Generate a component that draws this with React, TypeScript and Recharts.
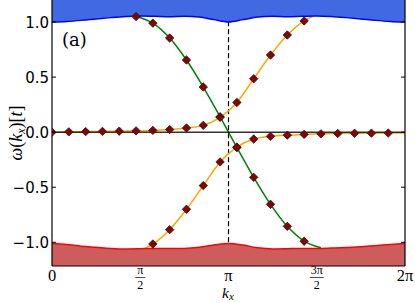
import React from 'react';
import { ComposedChart, Line, Area, Scatter, XAxis, YAxis, ReferenceLine } from 'recharts';

const PI = Math.PI;
const NSITES = 21; // momentum grid: k = 2πn/21
const siteK = (n: number) => (2 * PI * n) / NSITES;

// ---- band edges, sampled at k = 2πi/24, i = 0..24 ----
const BAND_SAMPLES = 24;
const upperBandEdge = [1.0, 1.005, 1.015, 1.028, 1.04, 1.05, 1.055, 1.052, 1.048, 1.052, 1.045, 1.022, 1.0,
  1.022, 1.045, 1.052, 1.048, 1.052, 1.055, 1.05, 1.04, 1.028, 1.015, 1.005, 1.0];
const lowerBandEdge = [-1.01, -1.02, -1.035, -1.045, -1.055, -1.06, -1.058, -1.055, -1.055, -1.055, -1.045, -1.025, -1.01,
  -1.025, -1.05, -1.06, -1.058, -1.055, -1.055, -1.052, -1.048, -1.04, -1.03, -1.02, -1.01];

// ---- bound states, values at sites n ----
const greenStart = 5;
const greenValues = [1.05, 0.99, 0.855, 0.655, 0.41, 0.14, -0.14, -0.41, -0.655, -0.855, -0.99, -1.05];
const greenMarkerCount = 11; // n = 5..15

const orangeUpperStart = 0;
const orangeUpperValues = [0.0, 0.003, 0.005, 0.007, 0.009, 0.012, 0.016, 0.024, 0.038, 0.062, 0.135, 0.27, 0.485, 0.7, 0.882, 1.01];
const orangeUpperEnd = { n: 15.5, v: 1.05 };

const orangeLowerStart = 6;
const orangeLowerValues = [-1.015, -0.885, -0.7, -0.485, -0.27, -0.135, -0.062, -0.038, -0.027, -0.02, -0.015, -0.012, -0.01, -0.009, -0.008];
const orangeLowerBegin = { n: 5.5, v: -1.058 };
const orangeLowerEnd = { n: 21, v: -0.007 };

const xTickValues = [0, PI / 2, PI, (3 * PI) / 2, 2 * PI];
const xTickLabels = [
  { num: '0', den: '' },
  { num: 'π', den: '2' },
  { num: 'π', den: '' },
  { num: '3π', den: '2' },
  { num: '2π', den: '' },
];
const yTickValues = [-1, -0.5, 0, 0.5, 1];
const yTickLabels = ['−1.0', '−0.5', '0.0', '0.5', '1.0'];

// ---- derived tables ----
const upperBand = upperBandEdge.map((v, i) => ({ x: (2 * PI * i) / BAND_SAMPLES, y: v }));
const lowerBand = lowerBandEdge.map((v, i) => ({ x: (2 * PI * i) / BAND_SAMPLES, y: v }));

const greenLine = greenValues.map((v, i) => ({ x: siteK(greenStart + i), y: v }));
const greenMarkers = greenLine.slice(0, greenMarkerCount);

const orangeUpperMarkers = orangeUpperValues.map((v, i) => ({ x: siteK(orangeUpperStart + i), y: v }));
const orangeUpperLine = [...orangeUpperMarkers, { x: siteK(orangeUpperEnd.n), y: orangeUpperEnd.v }];

const orangeLowerMarkers = orangeLowerValues.map((v, i) => ({ x: siteK(orangeLowerStart + i), y: v }));
const orangeLowerLine = [
  { x: siteK(orangeLowerBegin.n), y: orangeLowerBegin.v },
  ...orangeLowerMarkers,
  { x: siteK(orangeLowerEnd.n), y: orangeLowerEnd.v },
];

const PLOT_LEFT = 52;
const PLOT_RIGHT = 405;
const SERIF = '"DejaVu Serif", serif';
const TIMES = '"Liberation Serif", "DejaVu Serif", serif';
const SANS = '"DejaVu Sans", sans-serif';

const Diamond = (props: any) => {
  const { cx, cy } = props;
  if (cx == null || cy == null) return null;
  const r = 4.2;
  return (
    <polygon
      points={`${cx},${cy - r} ${cx + r},${cy} ${cx},${cy + r} ${cx - r},${cy}`}
      fill="#8B0000"
      stroke="#1a1a1a"
      strokeWidth={0.8}
      strokeLinejoin="round"
    />
  );
};

const renderXTick = (props: any) => {
  const { x, y, payload, index } = props;
  let idx = index;
  if (idx == null || idx < 0) idx = xTickValues.findIndex((t) => Math.abs(t - payload.value) < 1e-6);
  const lab = xTickLabels[idx];
  if (!lab) return null;
  if (lab.den) {
    const w = lab.num.length > 1 ? 7 : 5;
    return (
      <g>
        <text x={x} y={y + 8} textAnchor="middle" fontSize={12} fontFamily={TIMES} fill="#000">{lab.num}</text>
        <line x1={x - w} x2={x + w} y1={y + 11.5} y2={y + 11.5} stroke="#000" strokeWidth={0.7} />
        <text x={x} y={y + 23} textAnchor="middle" fontSize={12} fontFamily={TIMES} fill="#000">{lab.den}</text>
      </g>
    );
  }
  return (
    <text x={x} y={y + 15} textAnchor="middle" fontSize={16.5} fontFamily={TIMES} fill="#000">{lab.num}</text>
  );
};

const renderYTickLeft = (props: any) => {
  const { y, payload } = props;
  const idx = yTickValues.findIndex((t) => Math.abs(t - payload.value) < 1e-6);
  return (
    <g>
      <line x1={PLOT_LEFT} x2={PLOT_LEFT + 4} y1={y} y2={y} stroke="#000" strokeWidth={1} />
      <text x={PLOT_LEFT - 3} y={y + 5.5} textAnchor="end" fontSize={15} fontFamily={SANS} fill="#000">
        {yTickLabels[idx]}
      </text>
    </g>
  );
};

const renderYTickRight = (props: any) => {
  const { y } = props;
  return <line x1={PLOT_RIGHT - 4} x2={PLOT_RIGHT} y1={y} y2={y} stroke="#000" strokeWidth={1} />;
};

export default function App() {
  return (
    <div style={{ position: 'absolute', left: 0, top: 0, width: 415, height: 303, background: '#fff' }}>
      <ComposedChart width={415} height={303} margin={{ top: 0, right: 0, bottom: 0, left: 0 }}>
        <XAxis
          type="number"
          dataKey="x"
          domain={[0, 2 * PI]}
          allowDataOverflow
          ticks={xTickValues}
          interval={0}
          height={37}
          tick={renderXTick}
          tickLine={false}
          tickSize={0}
          tickMargin={0}
          axisLine={{ stroke: '#000', strokeWidth: 1.2 }}
        />
        <YAxis
          type="number"
          domain={[-1.215, 1.2]}
          allowDataOverflow
          ticks={yTickValues}
          interval={0}
          width={PLOT_LEFT}
          tick={renderYTickLeft}
          tickLine={false}
          tickSize={0}
          axisLine={{ stroke: '#000', strokeWidth: 1.2 }}
        />
        <YAxis
          yAxisId="r"
          orientation="right"
          type="number"
          domain={[-1.215, 1.2]}
          allowDataOverflow
          ticks={yTickValues}
          interval={0}
          width={10}
          tick={renderYTickRight}
          tickLine={false}
          tickSize={0}
          axisLine={{ stroke: '#000', strokeWidth: 1.2 }}
        />
        <ReferenceLine
          segment={[{ x: PI, y: -1 }, { x: PI, y: 1 }]}
          stroke="#000"
          strokeWidth={1.2}
          strokeDasharray="5 3"
        />
        <Line data={greenLine} dataKey="y" type="monotone" stroke="#008000" strokeWidth={1.5} dot={false} isAnimationActive={false} />
        <Line data={orangeUpperLine} dataKey="y" type="monotone" stroke="#FFA500" strokeWidth={1.5} dot={false} isAnimationActive={false} />
        <Line data={orangeLowerLine} dataKey="y" type="monotone" stroke="#FFA500" strokeWidth={1.5} dot={false} isAnimationActive={false} />
        <ReferenceLine y={0} stroke="#000" strokeWidth={1.5} strokeOpacity={0.8} zIndex={450} />
        <Area
          data={upperBand}
          dataKey="y"
          baseValue="dataMax"
          type="monotone"
          fill="#4169E1"
          fillOpacity={1}
          stroke="#0000FF"
          strokeWidth={1.5}
          isAnimationActive={false}
          zIndex={480}
        />
        <Area
          data={lowerBand}
          dataKey="y"
          baseValue="dataMin"
          type="monotone"
          fill="#CD5C5C"
          fillOpacity={1}
          stroke="#FF0000"
          strokeWidth={1.5}
          isAnimationActive={false}
          zIndex={480}
        />
        <Scatter data={greenMarkers} dataKey="y" shape={Diamond} isAnimationActive={false} />
        <Scatter data={orangeUpperMarkers} dataKey="y" shape={Diamond} isAnimationActive={false} />
        <Scatter data={orangeLowerMarkers} dataKey="y" shape={Diamond} isAnimationActive={false} />
      </ComposedChart>
      <svg width={415} height={303} style={{ position: 'absolute', left: 0, top: 0, pointerEvents: 'none' }}>
        <text x={62} y={46} fontSize={18} fontFamily={SERIF} fill="#000">(a)</text>
        <text x={228} y={298} textAnchor="middle" fontSize={15.5} fontFamily={TIMES} fill="#000">
          <tspan fontStyle="italic">k</tspan>
          <tspan fontStyle="italic" fontSize={11} dy={1.5}>x</tspan>
        </text>
        <text transform="rotate(-90)" x={-133} y={22} textAnchor="middle" fontSize={18} fontFamily={TIMES} fill="#000">
          <tspan fontStyle="italic">ω</tspan>
          <tspan>(</tspan>
          <tspan fontStyle="italic">k</tspan>
          <tspan fontStyle="italic" fontSize={12} dy={3}>x</tspan>
          <tspan dy={-3}>)[</tspan>
          <tspan fontStyle="italic">t</tspan>
          <tspan>]</tspan>
        </text>
      </svg>
    </div>
  );
}
